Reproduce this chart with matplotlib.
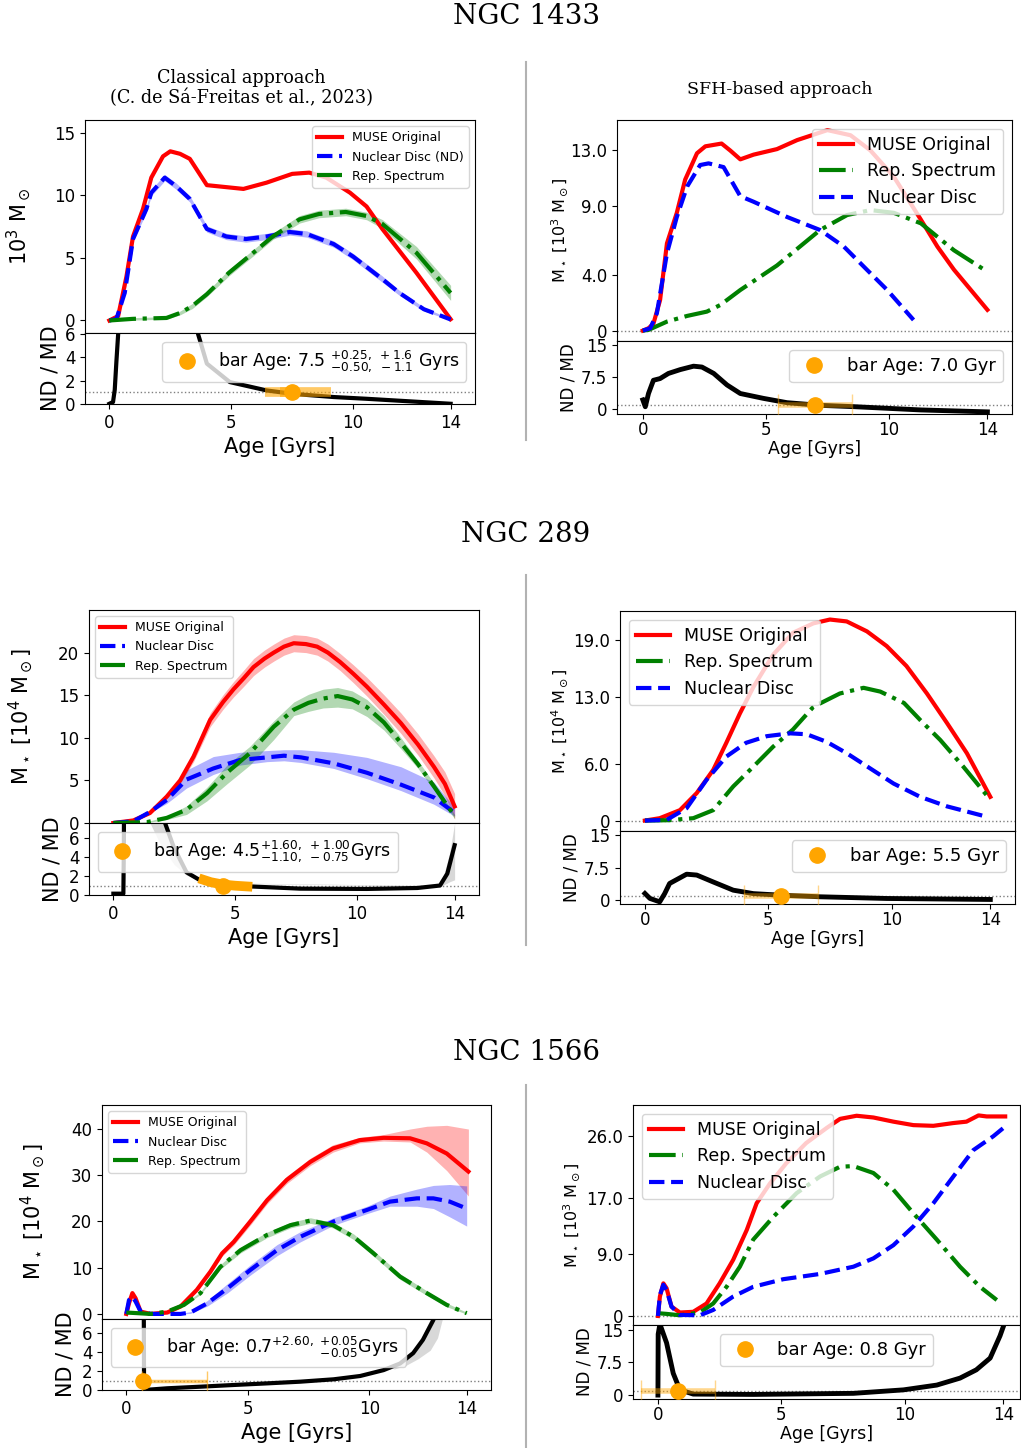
import matplotlib
matplotlib.use('Agg')
import matplotlib.pyplot as plt
from matplotlib.lines import Line2D

W, H = 1021, 1448

# ---------------- NGC 1433, classical approach (10^3 Msun) ----------------
c1433_red_age = [0, 0.36, 0.7, 0.97, 1.38, 1.72, 2.2, 2.5, 2.9, 3.3, 4.0, 5.5, 6.45, 7.5, 8.2, 8.9, 9.87, 10.55, 11.2, 12.6, 14]
c1433_red = [0, 0.35, 3.5, 6.7, 8.9, 11.4, 13.1, 13.5, 13.3, 12.9, 10.8, 10.5, 11.0, 11.7, 11.8, 11.4, 10.2, 9.1, 7.3, 3.8, 0.1]
c1433_blue_age = [0, 0.29, 0.63, 0.97, 1.52, 1.72, 2.27, 2.75, 3.3, 4.0, 4.8, 5.6, 6.45, 7.4, 8.1, 9.2, 10.0, 11.2, 11.9, 12.9, 14]
c1433_blue = [0, 0.13, 2.2, 6.5, 8.9, 10.2, 11.4, 10.7, 9.7, 7.3, 6.7, 6.5, 6.7, 7.06, 6.9, 6.1, 5.1, 3.3, 2.2, 0.9, 0.08]
c1433_blue_err = [0, 0.05, 0.15, 0.2, 0.25, 0.25, 0.25, 0.25, 0.25, 0.25, 0.25, 0.25, 0.25, 0.25, 0.25, 0.25, 0.25, 0.25, 0.2, 0.15, 0.05]
c1433_green_age = [0, 0.97, 2.34, 2.9, 3.4, 4.0, 4.9, 5.9, 6.7, 7.8, 8.6, 9.7, 10.55, 11.2, 12.6, 14]
c1433_green = [0, 0.13, 0.2, 0.6, 1.15, 2.1, 3.8, 5.4, 6.7, 8.07, 8.5, 8.66, 8.34, 7.7, 5.4, 2.2]
c1433_green_err = [0.05, 0.1, 0.1, 0.15, 0.2, 0.2, 0.25, 0.25, 0.25, 0.3, 0.3, 0.3, 0.3, 0.35, 0.5, 0.6]
c1433_ratio_age = [0, 0.15, 0.22, 0.29, 0.36, 0.42, 1.0, 2.5, 3.4, 3.64, 4.0, 4.94, 6.45, 7.5, 9.2, 10.55, 14]
c1433_ratio = [0, 0.15, 1.2, 3.7, 6.0, 9.0, 30, 30, 9.0, 6.0, 3.46, 1.87, 1.15, 0.86, 0.58, 0.43, 0]
c1433_bar_age = 7.5
c1433_bar_err_in = [0.50, 0.25]
c1433_bar_err_out = [1.1, 1.6]

# ---------------- NGC 1433, SFH-based approach (10^3 Msun) ----------------
s1433_red_age = [0, 0.23, 0.43, 0.7, 0.98, 1.38, 1.72, 2.2, 2.54, 3.2, 3.55, 3.96, 4.5, 5.45, 6.27, 7.5, 8.44, 9.25, 10.2, 11.3, 11.97, 12.64, 14]
s1433_red = [0, 0.17, 0.5, 2.2, 6.3, 8.5, 10.9, 12.8, 13.3, 13.5, 13.0, 12.36, 12.7, 13.1, 13.75, 14.47, 14.1, 13.0, 11.1, 8.0, 6.06, 4.4, 1.5]
s1433_green_age = [0, 0.23, 0.98, 1.8, 2.6, 3.15, 3.96, 5.45, 7.2, 8.3, 9.25, 10.2, 11.3, 12.64, 14]
s1433_green = [0, 0.05, 0.65, 1.06, 1.37, 1.85, 2.93, 4.7, 7.26, 8.34, 8.7, 8.5, 7.74, 5.8, 4.25]
s1433_blue_age = [0, 0.3, 0.57, 0.98, 1.38, 1.8, 2.33, 2.67, 3.28, 3.96, 4.5, 5.86, 7.2, 8.17, 9.1, 9.93, 11.0]
s1433_blue = [0, 0.17, 1.25, 5.58, 8.2, 10.4, 11.95, 12.07, 11.8, 9.7, 9.3, 8.2, 7.26, 6.06, 4.4, 2.93, 0.77]
s1433_ratio_age = [0, 0.1, 0.23, 0.43, 0.7, 1.04, 1.52, 2.06, 2.4, 2.88, 3.42, 3.96, 4.9, 5.86, 7.2, 8.57, 11.3, 14]
s1433_ratio = [2.2, 0.6, 3.7, 6.8, 7.2, 8.4, 9.3, 10.1, 9.9, 8.4, 5.7, 3.7, 2.56, 1.55, 0.93, 0.62, -0.15, -0.6]
s1433_bar_age = 7.0
s1433_bar_err = 1.5

# ---------------- NGC 289, classical approach (10^4 Msun) ----------------
c289_red_age = [0, 0.82, 1.5, 2.19, 2.74, 3.29, 3.97, 4.5, 4.93, 5.35, 5.75, 6.2, 6.58, 7.0, 7.4, 7.9, 8.36, 8.8, 9.3, 9.85,
                10.4, 11.1, 11.8, 12.5, 13.15, 13.6, 14]
c289_red = [0, 0.3, 1.17, 3.1, 5.0, 7.8, 12.1, 14.2, 15.7, 17.0, 18.3, 19.3, 20.0, 20.7, 21.1, 21.0, 20.7, 20.0, 18.9, 17.5,
            16.0, 13.9, 11.7, 9.2, 6.6, 4.6, 1.95]
c289_red_err = [0, 0.05, 0.1, 0.2, 0.4, 0.6, 0.8, 0.85, 0.9, 0.95, 1.0, 1.0, 1.0, 1.0, 1.0, 1.0, 1.0, 1.0, 1.0, 1.05,
                1.1, 1.15, 1.2, 1.25, 1.3, 1.4, 1.5]
c289_blue_age = [0, 0.82, 1.5, 2.19, 3.0, 4.1, 5.2, 6.3, 7.0, 7.7, 9.04, 10.4, 11.8, 13.15, 14]
c289_blue = [0, 0.2, 1.3, 2.7, 5.1, 6.4, 7.4, 7.7, 7.9, 7.7, 7.0, 5.9, 4.5, 3.0, 1.2]
c289_blue_hi = [0, 0.25, 1.4, 3.2, 6.2, 7.8, 8.3, 8.5, 8.6, 8.6, 8.3, 7.7, 6.6, 4.8, 1.8]
c289_blue_lo = [0, 0.15, 1.2, 2.3, 4.1, 5.7, 6.8, 7.2, 7.3, 7.1, 6.4, 5.2, 3.8, 2.2, 0.8]
c289_green_age = [0, 1.37, 2.19, 3.0, 3.84, 4.66, 5.6, 6.58, 7.4, 8.0, 8.6, 9.2, 9.8, 10.4, 11.1, 11.8, 12.5, 13.15, 14]
c289_green = [0, 0.1, 0.6, 1.56, 3.5, 5.9, 8.2, 11.3, 13.3, 14.1, 14.6, 14.9, 14.5, 13.6, 11.8, 9.4, 6.9, 4.3, 0.8]
c289_green_hi = [0, 0.15, 0.8, 2.0, 4.2, 6.8, 9.0, 12.0, 14.2, 15.1, 15.7, 15.9, 15.5, 14.5, 12.6, 10.0, 7.3, 4.7, 1.0]
c289_green_lo = [0, 0.05, 0.4, 1.0, 2.6, 4.6, 6.8, 9.8, 12.6, 13.1, 13.5, 13.6, 13.4, 12.5, 10.9, 8.7, 6.4, 3.9, 0.5]
c289_ratio_age = [0, 0.41, 0.43, 0.45, 2.05, 2.12, 2.47, 3.0, 3.56, 4.38, 5.48, 7.67, 10.4, 12.47, 13.4, 13.7, 14]
c289_ratio = [0.14, 0.14, 5.0, 20, 20, 7.6, 5.1, 2.4, 1.55, 1.13, 0.92, 0.67, 0.64, 0.74, 1.0, 2.26, 5.26]
c289_band_age = [1.5, 2.0, 2.12, 2.5, 3.0, 3.5, 4.0, 13.3, 13.5, 13.8, 14]
c289_band_lo = [7.6, 5.0, 4.6, 3.2, 2.1, 1.55, 1.25, 0.95, 1.0, 1.4, 1.6]
c289_band_hi = [7.6, 7.6, 7.6, 5.0, 2.4, 1.6, 1.3, 1.0, 1.6, 4.5, 7.6]
c289_hl_age = [3.7, 4.0, 4.5, 5.0, 5.5]
c289_hl = [1.6, 1.35, 1.1, 0.98, 0.9]
c289_bar_age = 4.5

# ---------------- NGC 289, SFH-based approach (10^4 Msun) ----------------
s289_red_age = [0, 0.6, 1.42, 2.1, 2.77, 3.3, 3.85, 4.4, 5.2, 6.0, 6.83, 7.5, 8.18, 9.0, 9.8, 10.6, 11.43, 12.24, 13.05, 14]
s289_red = [0, 0.25, 1.1, 2.9, 5.35, 8.2, 11.3, 14.1, 17.5, 19.8, 20.8, 21.2, 21.0, 19.95, 18.4, 16.3, 13.4, 10.3, 7.1, 2.5]
s289_green_age = [0, 1.0, 1.96, 2.77, 3.58, 4.4, 5.2, 6.0, 6.83, 7.9, 8.86, 9.54, 10.5, 11.16, 11.97, 12.9, 14]
s289_green = [0, 0.04, 0.25, 1.1, 3.6, 5.7, 7.8, 9.6, 12.0, 13.4, 14.0, 13.6, 12.4, 10.6, 8.5, 5.7, 2.2]
s289_blue_age = [0, 0.88, 1.69, 2.5, 3.3, 4.1, 4.94, 5.88, 6.56, 7.37, 8.18, 9.13, 10.08, 11.16, 12.24, 13.86]
s289_blue = [0, 0.07, 1.3, 4.3, 6.75, 8.2, 8.9, 9.2, 9.1, 8.3, 7.1, 5.5, 3.9, 2.5, 1.5, 0.4]
s289_ratio_age = [0, 0.2, 0.6, 0.8, 1.0, 1.69, 2.1, 2.77, 3.58, 4.4, 5.48, 7.1, 9.8, 14]
s289_ratio = [1.54, 0.4, -0.4, 1.5, 3.85, 6.0, 5.8, 4.2, 2.3, 1.5, 1.15, 0.77, 0.38, 0.15]
s289_bar_age = 5.5
s289_bar_err = 1.5

# ---------------- NGC 1566, classical approach (10^4 Msun) ----------------
c1566_red_age = [0, 0.11, 0.25, 0.38, 0.59, 1.0, 1.68, 2.23, 2.9, 3.46, 3.94, 4.42, 5.1, 5.79, 6.6, 7.57, 8.5, 9.6, 10.58, 11.67, 12.36, 13.18, 14.07]
c1566_red = [0, 2.3, 4.5, 3.4, 0.5, 0, 0.3, 1.6, 5.2, 9.15, 13.1, 15.6, 20.0, 24.6, 29.0, 32.9, 35.8, 37.6, 38.1, 38.0, 36.9, 34.7, 30.8]
c1566_red_hi = [0, 2.4, 4.7, 3.6, 0.6, 0.1, 0.4, 1.8, 5.5, 9.6, 13.7, 16.3, 20.8, 25.4, 29.8, 33.7, 36.6, 38.2, 38.8, 40.0, 40.6, 40.8, 40.0]
c1566_red_lo = [0, 2.2, 4.3, 3.2, 0.4, 0, 0.2, 1.4, 4.9, 8.7, 12.5, 14.9, 19.2, 23.8, 28.2, 32.1, 35.0, 37.0, 37.4, 37.2, 35.0, 31.0, 25.5]
c1566_blue_age = [0, 0.11, 0.25, 0.38, 0.59, 1.0, 2.23, 2.64, 3.33, 4.15, 5.1, 6.2, 7.16, 8.53, 9.9, 10.85, 11.95, 12.63, 13.3, 14]
c1566_blue = [0, 3.0, 3.75, 2.7, 0.5, 0, 0, 0.3, 2.3, 5.5, 9.5, 13.8, 16.7, 20.0, 22.5, 24.3, 25.0, 25.0, 24.3, 22.8]
c1566_blue_hi = [0, 3.2, 4.0, 2.9, 0.6, 0.1, 0.1, 0.5, 2.9, 6.5, 10.6, 15.0, 17.8, 20.8, 23.3, 25.5, 27.0, 27.8, 28.0, 27.7]
c1566_blue_lo = [0, 2.8, 3.5, 2.5, 0.4, 0, 0, 0.1, 1.7, 4.5, 8.4, 12.6, 15.6, 19.2, 21.7, 23.3, 23.3, 22.8, 21.0, 19.0]
c1566_green_age = [0, 1.0, 1.68, 2.37, 3.05, 3.87, 4.7, 5.79, 6.75, 7.57, 8.5, 9.35, 10.17, 11.26, 12.36, 13.18, 14]
c1566_green = [0.3, 0, 0.5, 1.95, 4.5, 10.2, 13.8, 17.1, 19.2, 20.2, 19.2, 16.7, 13.1, 8.07, 4.5, 1.95, 0.15]
c1566_green_err = [0.05, 0.05, 0.1, 0.2, 0.3, 0.5, 0.6, 0.6, 0.6, 0.6, 0.6, 0.6, 0.6, 0.6, 0.5, 0.4, 0.2]
c1566_ratio_age = [0.66, 0.72, 0.73, 1.68, 3.05, 4.42, 5.79, 7.16, 8.53, 9.62, 10.58, 11.26, 11.8, 12.2, 12.63, 12.75]
c1566_ratio = [20, 7.5, 0, 0.18, 0.35, 0.53, 0.7, 0.88, 1.13, 1.48, 2.1, 2.8, 3.9, 5.3, 7.4, 9.0]
c1566_band_age = [11.0, 11.5, 12.0, 12.5, 12.8, 13.0]
c1566_band_lo = [2.2, 2.6, 3.3, 4.2, 5.5, 7.5]
c1566_band_hi = [2.6, 3.4, 4.8, 7.5, 7.5, 7.5]
c1566_bar_age = 0.7
c1566_bar_err = [0.05, 2.6]

# ---------------- NGC 1566, SFH-based approach (10^3 Msun) ----------------
s1566_red_age = [0, 0.08, 0.22, 0.35, 0.55, 0.89, 1.43, 1.97, 2.5, 3.05, 3.6, 4.0, 4.54, 5.2, 6.0, 6.84, 7.38, 8.05, 8.73, 9.54, 10.35, 11.16, 11.97, 12.5, 12.99, 13.32, 14.07]
s1566_red = [0, 2.8, 4.7, 4.0, 1.35, 0.5, 0.6, 1.8, 4.7, 8.1, 12.4, 16.25, 19.1, 22.0, 24.9, 27.1, 28.4, 28.85, 28.6, 28.0, 27.5, 27.4, 27.8, 28.0, 28.9, 28.75, 28.75]
s1566_green_age = [0, 0.35, 0.89, 1.7, 2.24, 2.78, 3.32, 3.86, 4.68, 5.62, 6.57, 7.38, 7.92, 8.73, 9.54, 10.35, 11.3, 12.24, 13.05, 13.73]
s1566_green = [0.4, 0.3, 0.1, 0.5, 1.8, 4.2, 7.1, 11.0, 14.3, 17.7, 20.1, 21.5, 21.6, 20.6, 18.2, 14.8, 11.0, 7.1, 4.2, 2.3]
s1566_blue_age = [0, 0.08, 0.22, 0.35, 0.55, 0.89, 1.7, 2.24, 3.05, 3.86, 5.08, 6.57, 7.92, 8.73, 9.54, 10.35, 11.16, 11.97, 12.78, 13.59, 14]
s1566_blue = [0, 3.0, 4.5, 3.75, 1.35, 0.15, 0.1, 0.87, 2.8, 4.2, 5.3, 6.06, 7.1, 8.3, 10.2, 12.9, 16.25, 20.1, 23.9, 25.9, 27.1]
s1566_ratio_age = [0, 0.01, 0.08, 0.35, 0.62, 0.89, 1.43, 3.86, 7.92, 9.95, 11.3, 12.24, 12.9, 13.46, 13.86, 14.03]
s1566_ratio = [0, 14, 16.3, 12.0, 5.0, 1.2, 0.23, 0.15, 0.4, 1.2, 2.3, 3.9, 5.8, 8.5, 13.6, 16.3]
s1566_bar_age = 0.8
s1566_bar_err = 1.5

LW = 3
fig = plt.figure(figsize=(W / 100, H / 100), dpi=100)


def rect(l, t, r, b):
    return [l / W, 1 - b / H, (r - l) / W, (b - t) / H]


def make_panel(top, bot, xlim, ylim_top, ylim_bot, yt_top, yt_bot, ylab, labsize,
               lab_x, small=False):
    ax = fig.add_axes(rect(*top))
    axr = fig.add_axes(rect(*bot))
    for a in (ax, axr):
        a.set_xlim(*xlim)
        a.tick_params(labelsize=12)
    ax.set_xticks([])
    axr.set_xticks([0, 5, 10, 14])
    ax.set_ylim(*ylim_top)
    axr.set_ylim(*ylim_bot)
    ax.set_yticks(yt_top[0])
    ax.set_yticklabels(yt_top[1])
    axr.set_yticks(yt_bot[0])
    axr.set_yticklabels(yt_bot[1])
    ax.set_ylabel(ylab, fontsize=labsize[0])
    axr.set_ylabel('ND / MD', fontsize=labsize[1])
    if small:
        axr.tick_params(axis='x', pad=1.5)
        axr.set_xlabel('Age [Gyrs]', fontsize=labsize[2], labelpad=1)
        ax.axhline(0, color='gray', ls=':', lw=1, zorder=1)
    else:
        axr.set_xlabel('Age [Gyrs]', fontsize=labsize[2])
    ax.yaxis.set_label_coords(lab_x[0], 0.5)
    axr.yaxis.set_label_coords(lab_x[1], 0.5)
    axr.axhline(1, color='gray', ls=':', lw=1, zorder=1)
    return ax, axr


def band(ax, x, lo, hi, color, alpha=0.3):
    ax.fill_between(x, lo, hi, color=color, alpha=alpha, lw=0, zorder=2)


def bar_legend(ax, label, loc, fs=12):
    h, = ax.plot([], [], 'o', color='orange', ms=11)
    ax.legend([h], [label], loc=loc, fontsize=fs)


big_lab = (15, 15, 15)
small_lab = (11.5, 12, 12.5)
lin = ([0, 2, 4, 6], ['0', '2', '4', '6'])
sfh_bot = ([0, 7.5, 15], ['0', '7.5', '15'])

# ---- NGC 1433 classical ----
ax, axr = make_panel((85, 120, 475, 333), (85, 333, 475, 404), (-1, 15), (-1, 16), (-0.02, 6.1),
                     ([0, 5, 10, 15], ['0', '5', '10', '15']), lin,
                     r'10$^3$ M$_\odot$', big_lab, (-0.133, -0.064))
lo = [y - e for y, e in zip(c1433_blue, c1433_blue_err)]
hi = [y + e for y, e in zip(c1433_blue, c1433_blue_err)]
band(ax, c1433_blue_age, lo, hi, 'blue')
lo = [y - e for y, e in zip(c1433_green, c1433_green_err)]
hi = [y + e for y, e in zip(c1433_green, c1433_green_err)]
band(ax, c1433_green_age, lo, hi, 'green')
ax.plot(c1433_red_age, c1433_red, color='red', lw=LW, label='MUSE Original', zorder=3)
ax.plot(c1433_blue_age, c1433_blue, color='blue', ls='--', lw=LW, label='Nuclear Disc (ND)', zorder=3)
ax.plot(c1433_green_age, c1433_green, color='green', ls='-.', lw=LW, label='Rep. Spectrum', zorder=3)
ax.legend(loc='upper right', fontsize=9)
axr.plot(c1433_ratio_age, c1433_ratio, color='black', lw=LW, zorder=3)
axr.errorbar(c1433_bar_age, 1, xerr=[[c1433_bar_err_out[0]], [c1433_bar_err_out[1]]],
             fmt='none', ecolor='orange', elinewidth=7, alpha=0.6, zorder=4)
axr.errorbar(c1433_bar_age, 1, xerr=[[c1433_bar_err_in[0]], [c1433_bar_err_in[1]]],
             fmt='none', ecolor='orange', elinewidth=7, alpha=0.6, zorder=4)
axr.plot(c1433_bar_age, 1, 'o', color='orange', ms=11, zorder=5)
bar_legend(axr, r'bar Age: 7.5 $^{+0.25,\ +1.6}_{-0.50,\ -1.1}$ Gyrs', 'upper right', fs=12.5)

# ---- NGC 1433 SFH ----
ax, axr = make_panel((617, 120, 1012, 341), (617, 341, 1012, 414), (-1.05, 15), (-0.75, 15.2), (-1.1, 16),
                     ([0, 4, 9, 13], ['0', '4.0', '9.0', '13.0']), sfh_bot,
                     r'M$_\star$ [10$^3$ M$_\odot$]', small_lab, (-0.119, -0.101), small=True)
ax.plot(s1433_red_age, s1433_red, color='red', lw=LW, label='MUSE Original', zorder=3)
ax.plot(s1433_green_age, s1433_green, color='green', ls='-.', lw=LW, label='Rep. Spectrum', zorder=3)
ax.plot(s1433_blue_age, s1433_blue, color='blue', ls='--', lw=LW, label='Nuclear Disc', zorder=3)
ax.legend(loc='upper right', fontsize=12.5)
axr.plot(s1433_ratio_age, s1433_ratio, color='black', lw=LW + 0.5, zorder=3)
axr.errorbar(s1433_bar_age, 1, xerr=s1433_bar_err, fmt='none', ecolor='orange', elinewidth=4,
             capsize=8, alpha=0.45, zorder=4)
axr.plot(s1433_bar_age, 1, 'o', color='orange', ms=11, zorder=5)
bar_legend(axr, 'bar Age: 7.0 Gyr', 'upper right', fs=13)

# ---- NGC 289 classical ----
ax, axr = make_panel((89, 610, 479, 823), (89, 823, 479, 895), (-1, 15), (0, 25), (0, 7.6),
                     ([0, 5, 10, 15, 20], ['0', '5', '10', '15', '20']), lin,
                     r'M$_\star$ [10$^4$ M$_\odot$]', big_lab, (-0.138, -0.069))
lo = [y - e for y, e in zip(c289_red, c289_red_err)]
hi = [y + e for y, e in zip(c289_red, c289_red_err)]
band(ax, c289_red_age, lo, hi, 'red')
band(ax, c289_blue_age, c289_blue_lo, c289_blue_hi, 'blue')
band(ax, c289_green_age, c289_green_lo, c289_green_hi, 'green')
ax.plot(c289_red_age, c289_red, color='red', lw=LW, label='MUSE Original', zorder=3)
ax.plot(c289_blue_age, c289_blue, color='blue', ls='--', lw=LW, label='Nuclear Disc', zorder=3)
ax.plot(c289_green_age, c289_green, color='green', ls='-.', lw=LW, label='Rep. Spectrum', zorder=3)
ax.legend(loc='upper left', fontsize=9)
band(axr, c289_band_age, c289_band_lo, c289_band_hi, 'gray')
axr.plot(c289_ratio_age, c289_ratio, color='black', lw=LW, zorder=3)
axr.plot(c289_hl_age, c289_hl, color='orange', lw=7, zorder=4)
axr.plot(c289_bar_age, 1, 'o', color='orange', ms=11, zorder=5)
bar_legend(axr, r'bar Age: 4.5$^{+1.60,\ +1.00}_{-1.10,\ -0.75}$Gyrs', 'upper left', fs=12.5)

# ---- NGC 289 SFH ----
ax, axr = make_panel((620, 611, 1015, 831), (620, 831, 1015, 904), (-1.01, 15), (-1.1, 22.1), (-0.9, 16),
                     ([0, 6, 13, 19], ['0', '6.0', '13.0', '19.0']), sfh_bot,
                     r'M$_\star$ [10$^4$ M$_\odot$]', small_lab, (-0.127, -0.101), small=True)
ax.plot(s289_red_age, s289_red, color='red', lw=LW, label='MUSE Original', zorder=3)
ax.plot(s289_green_age, s289_green, color='green', ls='-.', lw=LW, label='Rep. Spectrum', zorder=3)
ax.plot(s289_blue_age, s289_blue, color='blue', ls='--', lw=LW, label='Nuclear Disc', zorder=3)
ax.legend(loc='upper left', fontsize=12.5)
axr.plot(s289_ratio_age, s289_ratio, color='black', lw=LW + 0.5, zorder=3)
axr.errorbar(s289_bar_age, 1, xerr=s289_bar_err, fmt='none', ecolor='orange', elinewidth=4,
             capsize=8, alpha=0.45, zorder=4)
axr.plot(s289_bar_age, 1, 'o', color='orange', ms=11, zorder=5)
bar_legend(axr, 'bar Age: 5.5 Gyr', 'upper right', fs=13)

# ---- NGC 1566 classical ----
ax, axr = make_panel((102, 1105, 491, 1319), (102, 1319, 491, 1390), (-1, 15), (-1.1, 45.2), (0, 7.5),
                     ([0, 10, 20, 30, 40], ['0', '10', '20', '30', '40']), lin,
                     r'M$_\star$ [10$^4$ M$_\odot$]', big_lab, (-0.141, -0.069))
band(ax, c1566_red_age, c1566_red_lo, c1566_red_hi, 'red')
band(ax, c1566_blue_age, c1566_blue_lo, c1566_blue_hi, 'blue')
lo = [y - e for y, e in zip(c1566_green, c1566_green_err)]
hi = [y + e for y, e in zip(c1566_green, c1566_green_err)]
band(ax, c1566_green_age, lo, hi, 'green')
ax.plot(c1566_red_age, c1566_red, color='red', lw=LW, label='MUSE Original', zorder=3)
ax.plot(c1566_blue_age, c1566_blue, color='blue', ls='--', lw=LW, label='Nuclear Disc', zorder=3)
ax.plot(c1566_green_age, c1566_green, color='green', ls='-.', lw=LW, label='Rep. Spectrum', zorder=3)
ax.legend(loc='upper left', fontsize=9)
band(axr, c1566_band_age, c1566_band_lo, c1566_band_hi, 'gray')
axr.plot(c1566_ratio_age, c1566_ratio, color='black', lw=LW, zorder=3)
axr.errorbar(c1566_bar_age, 1, xerr=[[c1566_bar_err[0]], [c1566_bar_err[1]]], fmt='none',
             ecolor='orange', elinewidth=2.5, capsize=7, alpha=0.6, zorder=4)
axr.plot(c1566_bar_age, 1, 'o', color='orange', ms=11, zorder=5)
bar_legend(axr, r'bar Age: 0.7$^{+2.60,\ }{}^{+0.05}_{-0.05}$Gyrs', 'upper left', fs=12.5)

# ---- NGC 1566 SFH ----
ax, axr = make_panel((633, 1105, 1020, 1325), (633, 1325, 1020, 1399), (-1.01, 14.67), (-1.3, 30.4), (-0.9, 16.1),
                     ([0, 9, 17, 26], ['0', '9.0', '17.0', '26.0']), sfh_bot,
                     r'M$_\star$ [10$^3$ M$_\odot$]', small_lab, (-0.132, -0.103), small=True)
ax.plot(s1566_red_age, s1566_red, color='red', lw=LW, label='MUSE Original', zorder=3)
ax.plot(s1566_green_age, s1566_green, color='green', ls='-.', lw=LW, label='Rep. Spectrum', zorder=3)
ax.plot(s1566_blue_age, s1566_blue, color='blue', ls='--', lw=LW, label='Nuclear Disc', zorder=3)
ax.legend(loc='upper left', fontsize=12.5)
axr.plot(s1566_ratio_age, s1566_ratio, color='black', lw=LW + 0.5, zorder=3)
axr.errorbar(s1566_bar_age, 1, xerr=s1566_bar_err, fmt='none', ecolor='orange', elinewidth=4,
             capsize=8, alpha=0.45, zorder=4)
axr.plot(s1566_bar_age, 1, 'o', color='orange', ms=11, zorder=5)
bar_legend(axr, 'bar Age: 0.8 Gyr', 'upper center', fs=13)

# titles
serif = 'DejaVu Serif'
for y, name in [(17, 'NGC 1433'), (535, 'NGC 289'), (1053, 'NGC 1566')]:
    fig.text(526 / W, 1 - y / H, name, ha='center', va='center', family=serif, fontsize=20)
fig.text(241 / W, 1 - 88 / H, 'Classical approach\n(C. de Sá-Freitas et al., 2023)',
         ha='center', va='center', family=serif, fontsize=12.7, linespacing=1.15)
fig.text(780 / W, 1 - 89 / H, 'SFH-based approach', ha='center', va='center', family=serif, fontsize=12.5)

# column separators
for y0, y1 in [(62, 440), (575, 945), (1085, 1448)]:
    fig.add_artist(Line2D([526 / W, 526 / W], [1 - y0 / H, 1 - y1 / H], transform=fig.transFigure,
                          color='gray', lw=1.5, alpha=0.6))

fig.savefig('out.png', dpi=100, facecolor='white')
